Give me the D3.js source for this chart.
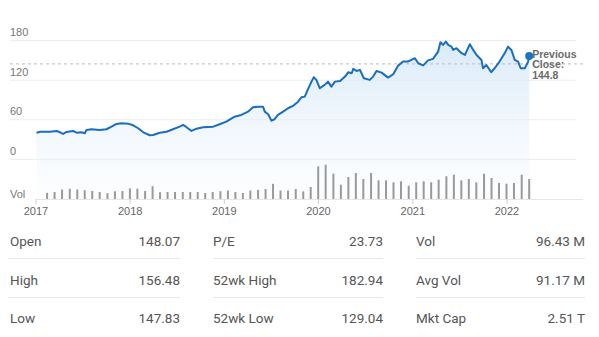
<!DOCTYPE html>
<html>
<head>
<meta charset="utf-8">
<script src="https://cdn.jsdelivr.net/npm/d3@7"></script>
<style>
  html, body { margin: 0; padding: 0; background: #fff; }
  svg { display: block; }
</style>
</head>
<body>
<svg id="chart" width="599" height="337"></svg>
<script>
// ---- Data ----
const priceDates = ["2017-01-03","2017-01-18","2017-02-24","2017-03-22","2017-04-04","2017-04-16","2017-04-29","2017-05-25","2017-06-07","2017-06-27","2017-07-09","2017-07-16","2017-08-04","2017-09-05","2017-10-01","2017-10-21","2017-11-09","2017-11-28","2017-12-24","2018-01-13","2018-02-01","2018-02-21","2018-03-18","2018-03-31","2018-04-26","2018-05-22","2018-06-16","2018-07-12","2018-07-25","2018-08-05","2018-08-27","2018-09-15","2018-10-11","2018-11-19","2018-12-14","2019-01-09","2019-02-10","2019-03-08","2019-04-03","2019-04-22","2019-05-12","2019-05-31","2019-06-07","2019-06-20","2019-07-03","2019-07-15","2019-07-28","2019-08-17","2019-09-05","2019-09-24","2019-10-14","2019-10-27","2019-11-09","2019-11-22","2019-12-05","2019-12-14","2019-12-24","2020-01-06","2020-01-25","2020-02-07","2020-02-20","2020-03-05","2020-03-25","2020-04-13","2020-04-26","2020-05-09","2020-05-15","2020-05-28","2020-06-10","2020-06-25","2020-07-18","2020-07-31","2020-08-13","2020-09-02","2020-09-27","2020-10-17","2020-11-05","2020-11-24","2020-12-13","2020-12-26","2021-01-09","2021-01-22","2021-02-10","2021-03-01","2021-03-20","2021-04-09","2021-04-18","2021-04-28","2021-05-09","2021-05-18","2021-05-31","2021-06-06","2021-06-19","2021-07-09","2021-07-22","2021-08-10","2021-08-23","2021-09-05","2021-09-24","2021-09-30","2021-10-13","2021-11-01","2021-11-14","2021-12-03","2021-12-23","2022-01-05","2022-01-18","2022-01-31","2022-02-13","2022-02-23","2022-03-11","2022-03-24","2022-03-28"];
const priceValues = [40.4,41.9,41.9,43.0,41.0,38.4,41.5,43.0,40.4,41.0,39.5,44.5,45.6,44.5,45.6,49.5,53.6,54.7,54.1,51.6,47.1,41.0,36.5,36.9,40.4,41.9,45.6,49.5,52.1,49.5,43.0,46.5,48.6,49.5,53.2,57.1,64.7,67.3,72.3,79.0,79.9,79.9,72.3,68.4,58.6,60.8,67.3,72.3,77.5,81.0,87.5,94.2,95.1,106.8,117.9,124.6,120.5,107.9,112.9,117.9,110.3,117.9,118.9,125.5,132.2,130.6,137.2,134.1,135.7,123.0,120.5,125.5,134.1,131.6,124.0,129.1,142.2,148.3,148.3,150.8,153.4,145.8,142.5,150.1,152.4,163.5,177.7,173.6,178.6,173.6,171.0,166.0,168.6,161.0,158.4,174.7,166.0,158.4,150.8,138.2,143.2,132.2,138.2,148.3,161.0,171.0,166.0,150.8,148.3,138.2,138.2,148.3,156.9];

const volumeDates = ["2017-02-13","2017-03-14","2017-04-12","2017-05-12","2017-06-10","2017-07-09","2017-08-07","2017-09-05","2017-10-05","2017-11-03","2017-12-02","2017-12-31","2018-01-29","2018-02-28","2018-03-29","2018-04-27","2018-05-26","2018-06-24","2018-07-24","2018-08-22","2018-09-20","2018-10-19","2018-11-17","2018-12-17","2019-01-15","2019-02-13","2019-03-14","2019-04-12","2019-05-12","2019-06-10","2019-07-09","2019-08-07","2019-09-05","2019-10-05","2019-11-03","2019-12-02","2019-12-31","2020-01-29","2020-02-28","2020-03-28","2020-04-26","2020-05-25","2020-06-23","2020-07-23","2020-08-21","2020-09-19","2020-10-18","2020-11-16","2020-12-16","2021-01-14","2021-02-12","2021-03-13","2021-04-11","2021-05-11","2021-06-09","2021-07-08","2021-08-06","2021-09-04","2021-10-04","2021-11-02","2021-12-01","2021-12-30","2022-01-28","2022-02-27","2022-03-28"];
const volumeValues = [62,70,95,103,95,88,80,70,58,77,80,107,103,80,128,68,70,70,70,70,70,60,70,78,85,70,60,85,92,100,152,85,85,100,76,120,327,343,253,143,220,260,200,260,187,187,167,177,133,167,177,167,193,227,243,187,200,167,253,210,160,153,160,243,200];

const yTicks = [0, 60, 120, 180];
const yearTicks = ["2017","2018","2019","2020","2021","2022"];
const previousClose = 144.8;

const statsLabels = [["Open","High","Low"],["P/E","52wk High","52wk Low"],["Vol","Avg Vol","Mkt Cap"]];
const statsValues = [["148.07","156.48","147.83"],["23.73","182.94","129.04"],["96.43 M","91.17 M","2.51 T"]];

// ---- Drawing ----
const parse = d3.timeParse("%Y-%m-%d");
const svg = d3.select("#chart");
const chartFont = "'Liberation Sans', Arial, sans-serif";

const x = d3.scaleTime()
  .domain([parse("2017-01-01"), parse("2022-01-01")])
  .range([36, 507]);
const y = d3.scaleLinear().domain([0, 180]).range([159.3, 40.7]);
const yv = d3.scaleLinear().domain([0, 400]).range([199, 159]);

const prices = priceDates.map((d, i) => ({ date: parse(d), value: priceValues[i] }));
const vols = volumeDates.map((d, i) => ({ date: parse(d), value: volumeValues[i] }));

// gradient
const defs = svg.append("defs");
const grad = defs.append("linearGradient").attr("id", "fillGrad")
  .attr("x1", 0).attr("y1", 0).attr("x2", 0).attr("y2", 1);
grad.append("stop").attr("offset", "0%").attr("stop-color", "#d6e8f8").attr("stop-opacity", 0.9);
grad.append("stop").attr("offset", "100%").attr("stop-color", "#eef5fc").attr("stop-opacity", 0.15);

// gridlines
svg.append("g").selectAll("line").data(yTicks).join("line")
  .attr("x1", 10).attr("x2", 576)
  .attr("y1", d => y(d)).attr("y2", d => y(d))
  .attr("stroke", "#ebebeb").attr("stroke-width", 1);

// area
const area = d3.area()
  .x(d => x(d.date)).y0(yv(0)).y1(d => y(d.value));
svg.append("path").datum(prices).attr("d", area).attr("fill", "url(#fillGrad)");

// y labels
svg.append("g").selectAll("text").data(yTicks).join("text")
  .attr("x", 10).attr("y", d => y(d) - 4.5)
  .attr("font-family", chartFont).attr("font-size", 11).attr("fill", "#777")
  .text(d => d);

// previous close dashed line
svg.append("line")
  .attr("x1", 10).attr("x2", 583)
  .attr("y1", y(previousClose)).attr("y2", y(previousClose))
  .attr("stroke", "#bdbdbd").attr("stroke-width", 1).attr("stroke-dasharray", "3,3");

// volume baseline
svg.append("line").attr("x1", 36).attr("x2", 583)
  .attr("y1", yv(0) + 0.5).attr("y2", yv(0) + 0.5)
  .attr("stroke", "#e6e6e6").attr("stroke-width", 1);

// volume bars
svg.append("g").selectAll("rect").data(vols).join("rect")
  .attr("x", d => x(d.date) - 1)
  .attr("width", 2)
  .attr("y", d => yv(d.value))
  .attr("height", d => yv(0) - yv(d.value))
  .attr("fill", "#9a9a9a");

svg.append("text").attr("x", 10).attr("y", 198)
  .attr("font-family", chartFont).attr("font-size", 11).attr("fill", "#777").text("Vol");

// x axis ticks & labels
const xg = svg.append("g");
xg.selectAll("line").data(yearTicks).join("line")
  .attr("x1", d => x(parse(d + "-01-01"))).attr("x2", d => x(parse(d + "-01-01")))
  .attr("y1", 199).attr("y2", 204)
  .attr("stroke", "#cfcfcf");
xg.selectAll("text").data(yearTicks).join("text")
  .attr("x", d => x(parse(d + "-01-01"))).attr("y", 215)
  .attr("text-anchor", "middle")
  .attr("font-family", chartFont).attr("font-size", 11).attr("fill", "#666")
  .text(d => d);

// price line
const line = d3.line().x(d => x(d.date)).y(d => y(d.value));
svg.append("path").datum(prices).attr("d", line)
  .attr("fill", "none").attr("stroke", "#1a6ebd").attr("stroke-width", 2)
  .attr("stroke-linejoin", "round");

// last point dot
const last = prices[prices.length - 1];
svg.append("circle").attr("cx", x(last.date)).attr("cy", y(last.value)).attr("r", 4)
  .attr("fill", "#1a73c8");

// previous close label
const pcx = x(last.date) + 3;
const pcLines = ["Previous", "Close:", String(previousClose)];
svg.append("g").selectAll("text").data(pcLines).join("text")
  .attr("x", pcx).attr("y", (d, i) => 57.5 + i * 10.7)
  .attr("font-family", chartFont).attr("font-size", 10.5).attr("font-weight", "bold")
  .attr("fill", "#6b6b6b").text(d => d);

// stats table
const colLabelX = [10, 213, 416];
const colValueX = [180, 383, 585];
const colSepX = [[8, 180], [213, 383], [416, 585]];
const rowY = [246, 285, 323];
const sepY = [258.5, 297.5];
const tableFont = "Roboto, 'Noto Sans', sans-serif";
statsLabels.forEach((col, c) => {
  const g = svg.append("g");
  g.selectAll("text.lab").data(col).join("text").attr("class", "lab")
    .attr("x", colLabelX[c]).attr("y", (d, i) => rowY[i])
    .attr("font-family", tableFont).attr("font-size", 13.5).attr("fill", "#555")
    .text(d => d);
  g.selectAll("text.val").data(statsValues[c]).join("text").attr("class", "val")
    .attr("x", colValueX[c]).attr("y", (d, i) => rowY[i])
    .attr("text-anchor", "end")
    .attr("font-family", tableFont).attr("font-size", 13.5).attr("fill", "#555")
    .text(d => d);
  g.selectAll("line").data(sepY).join("line")
    .attr("x1", colSepX[c][0]).attr("x2", colSepX[c][1])
    .attr("y1", d => d).attr("y2", d => d)
    .attr("stroke", "#e8e8e8").attr("stroke-width", 1);
});
</script>
</body>
</html>
